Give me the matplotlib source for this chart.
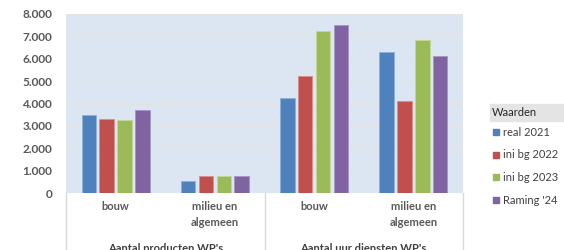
import matplotlib.pyplot as plt
from matplotlib.patches import Rectangle
from matplotlib.ticker import FuncFormatter

# data
categories = ['bouw', 'milieu en\nalgemeen', 'bouw', 'milieu en\nalgemeen']
groups = ["Aantal producten WP's", "Aantal uur diensten WP's"]
series = ['real 2021', 'ini bg 2022', 'ini bg 2023', "Raming '24"]
real_2021 = [3480, 540, 4260, 6280]
ini_bg_2022 = [3320, 740, 5220, 4130]
ini_bg_2023 = [3270, 740, 7220, 6840]
raming_24 = [3700, 740, 7530, 6140]
colors = ['#4f81bd', '#c0504d', '#9bbb59', '#8064a2']
edges = ['#8fb0d8', '#d98f8d', '#c3d799', '#a797c4']

plt.rcParams['font.family'] = ['Lato', 'DejaVu Sans']

fig = plt.figure(figsize=(5.64, 2.5), dpi=100)
W, H = 564.0, 250.0
ax = fig.add_axes([66 / W, (H - 193) / H, (463 - 66) / W, (193 - 14) / H])
ax.set_facecolor('#dce6f2')

values = [real_2021, ini_bg_2022, ini_bg_2023, raming_24]
offsets = [-0.27, -0.09, 0.09, 0.27]
x = list(range(len(categories)))
for vals, off, c, ec in zip(values, offsets, colors, edges):
    ax.bar([i + off for i in x], vals, width=0.145, color=c, edgecolor=ec,
           linewidth=0.7, zorder=3)

ax.set_xlim(-0.5, 3.5)
ax.set_ylim(0, 8000)
ax.set_yticks(range(0, 8001, 1000))
ax.yaxis.set_major_formatter(FuncFormatter(lambda v, p: f'{int(v):,}'.replace(',', '.')))
ax.grid(axis='y', color='#e2e2e2', linewidth=1, zorder=1)
ax.set_xticks([])
for s in ax.spines.values():
    s.set_visible(False)
ax.tick_params(axis='y', length=0, pad=10, labelsize=8.5, labelcolor='#595959')
for t in ax.get_yticklabels():
    t.set_fontweight('bold')

# category and group labels below the axis
tr = ax.get_xaxis_transform()
for i, lab in enumerate(categories):
    ax.text(i, -0.045, lab, transform=tr, ha='center', va='top', fontsize=8,
            fontweight='bold', color='#595959', linespacing=1.55)
for g, lab in enumerate(groups):
    ax.text(2 * g + 0.5, -0.28, lab, transform=tr, ha='center', va='top',
            fontsize=8, fontweight='bold', color='#404040')
for xs in [-0.5, 1.5, 3.5]:
    ax.plot([xs, xs], [0, -0.4], transform=tr, color='#d9d9d9', lw=1,
            clip_on=False)

# legend
fig.patches.append(Rectangle((490 / W, (H - 121) / H), 80 / W, 17 / H,
                             transform=fig.transFigure, color='#e4e4e4'))
fig.text(492 / W, (H - 112.5) / H, 'Waarden', fontsize=8, va='center',
         color='#262626')
for k, (name, c) in enumerate(zip(series, colors)):
    yk = (H - (132 + k * 22.7)) / H
    fig.patches.append(Rectangle((493 / W, yk - 3 / H), 6 / W, 6 / H,
                                 transform=fig.transFigure, color=c))
    fig.text(503 / W, yk, name, fontsize=8, va='center', color='#404040')

fig.savefig('out.png', dpi=100)
